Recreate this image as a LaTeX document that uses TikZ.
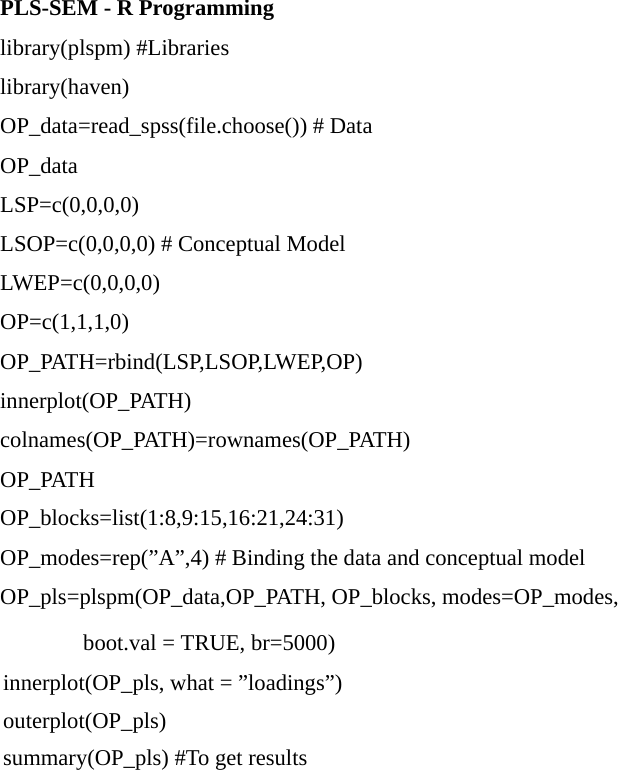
\documentclass[tikz,border=0pt]{standalone}
\usepackage{fontspec}
\setmainfont{Liberation Serif}
\usetikzlibrary{positioning}
\newcommand{\qt}{\symbol{34}}
\begin{document}
\begin{tikzpicture}[
		x=1pt,y=-1pt,
		codeline/.style={anchor=west,inner sep=0pt,font=\fontsize{22.6}{24}\selectfont}
		]
		\useasboundingbox (0,0) rectangle (629,774);
		% title
		\node[codeline,font=\fontsize{22.6}{24}\selectfont\bfseries] (title) at (0,10) {PLS-SEM - R Programming};
		% code lines
		\node[codeline] (l2) at (0,50) {library(plspm) \#Libraries};
		\node[codeline] (l3) at (0,89.2) {library(haven)};
		\node[codeline] (l4) at (0,128.4) {OP\_data=read\_spss(file.choose()) \# Data};
		\node[codeline] (l5) at (0,167.6) {OP\_data};
		\node[codeline] (l6) at (0,206.8) {LSP=c(0,0,0,0)};
		\node[codeline] (l7) at (0,246) {LSOP=c(0,0,0,0) \# Conceptual Model};
		\node[codeline] (l8) at (0,285.2) {LWEP=c(0,0,0,0)};
		\node[codeline] (l9) at (0,324.4) {OP=c(1,1,1,0)};
		\node[codeline] (l10) at (0,363.6) {OP\_PATH=rbind(LSP,LSOP,LWEP,OP)};
		\node[codeline] (l11) at (0,402.8) {innerplot(OP\_PATH)};
		\node[codeline] (l12) at (0,442) {colnames(OP\_PATH)=rownames(OP\_PATH)};
		\node[codeline] (l13) at (0,481.2) {OP\_PATH};
		\node[codeline] (l14) at (0,520.4) {OP\_blocks=list(1:8,9:15,16:21,24:31)};
		\node[codeline] (l15) at (0,559.6) {OP\_modes=rep(\qt A\qt,4) \# Binding the data and conceptual model};
		\node[codeline] (l16) at (0,599) {OP\_pls=plspm(OP\_data,OP\_PATH, OP\_blocks, modes=OP\_modes,};
		\node[codeline] (l17) at (83,645) {boot.val = TRUE, br=5000)};
		\node[codeline] (l18) at (3,685) {innerplot(OP\_pls, what = \qt loadings\qt)};
		\node[codeline] (l19) at (3,723) {outerplot(OP\_pls)};
		\node[codeline] (l20) at (3,760) {summary(OP\_pls) \#To get results};
	\end{tikzpicture}
\end{document}
